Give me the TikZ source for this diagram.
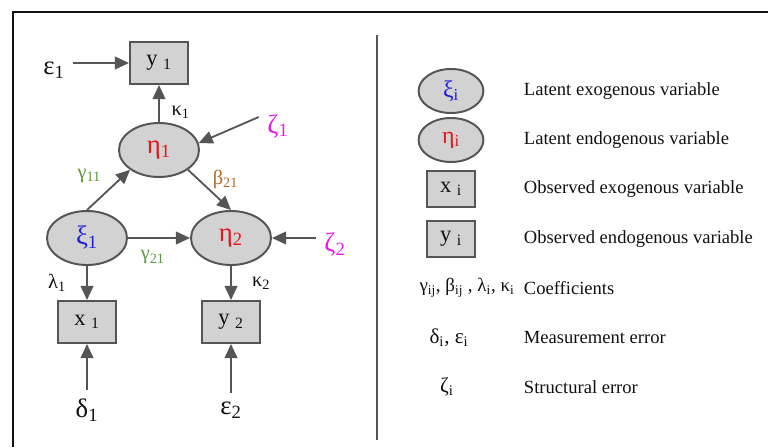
\documentclass[tikz,border=0pt]{standalone}
\usepackage{fontspec}
\setmainfont{Liberation Serif}
\usetikzlibrary{arrows.meta,positioning,calc,shapes.geometric}
\definecolor{ink}{HTML}{111111}
\definecolor{edge}{HTML}{555555}
\definecolor{shade}{HTML}{D2D2D2}
\definecolor{exo}{HTML}{1E1ED8}
\definecolor{endo}{HTML}{E8141C}
\definecolor{struct}{HTML}{E61CE6}
\definecolor{gam}{HTML}{5E9640}
\definecolor{bet}{HTML}{B0692A}
\tikzset{
  every node/.style={text=ink},
  latent/.style={ellipse, draw=edge, fill=shade, line width=1.4pt, minimum width=2.0cm, minimum height=1.35cm, inner sep=0pt, font=\fontsize{19}{22}\selectfont},
  observed/.style={rectangle, draw=edge, fill=shade, line width=1.4pt, minimum width=1.45cm, minimum height=1.05cm, font=\fontsize{16}{18}\selectfont},
  keylatent/.style={latent, minimum width=1.62cm, minimum height=1.1cm, font=\fontsize{17}{20}\selectfont},
  keyobs/.style={observed, minimum width=1.22cm, minimum height=0.88cm},
  err/.style={font=\fontsize{19}{22}\selectfont, inner sep=6pt},
  coef/.style={font=\fontsize{14.5}{17}\selectfont},
  keysym/.style={font=\fontsize{15}{18}\selectfont},
  keytext/.style={font=\fontsize{13.2}{16}\selectfont, anchor=west},
  arr/.style={-{Triangle[length=10pt,width=9pt]}, draw=edge, line width=1.3pt},
  frame/.style={draw=ink, line width=1.1pt},
}
\begin{document}
\begin{tikzpicture}[x=0.025cm, y=-0.025cm]
  \useasboundingbox (0,0) rectangle (768,447);
  \draw[frame] (13,447) -- (13,12) -- (768,12);
  \draw[frame, draw=edge] (377,35) -- (377,440);

  % path diagram
  \node[observed] (y1) at (159,63) {y\ \textsubscript{1}};
  \node[latent] (eta1) at (159,150) {\color{endo}η\textsubscript{1}};
  \node[latent] (xi1) at (87,238) {\color{exo}ξ\textsubscript{1}};
  \node[latent] (eta2) at (231,238) {\color{endo}η\textsubscript{2}};
  \node[observed] (x1) at (87,322) {x\ \textsubscript{1}};
  \node[observed] (y2) at (231,322) {y\ \textsubscript{2}};

  \node[err] (eps1) at (54,70) {ε\textsubscript{1}};
  \node[err, text=struct] (zeta1) at (278,126) {ζ\textsubscript{1}};
  \node[err, text=struct] (zeta2) at (335,244) {ζ\textsubscript{2}};
  \node[err] (delta1) at (87,410) {δ\textsubscript{1}};
  \node[err] (eps2) at (231,410) {ε\textsubscript{2}};

  \draw[arr] (eps1.east |- y1) -- (y1);
  \draw[arr] (eta1) -- node[pos=0.25, right=5pt, coef] (k1) {κ\textsubscript{1}} (y1);
  \draw[arr] (zeta1.155) -- (eta1.10);
  \draw[arr] (xi1.north) -- node[pos=0.85, left=12pt, coef, text=gam] (g11) {γ\textsubscript{11}} (eta1.south west);
  \draw[arr] (eta1.south east) -- node[pos=0.25, right=6pt, coef, text=bet] (b21) {β\textsubscript{21}} (eta2.north);
  \draw[arr] (xi1) -- node[pos=0.4, below=5pt, coef, text=gam] (g21) {γ\textsubscript{21}} (eta2);
  \draw[arr] (zeta2.west |- eta2) -- (eta2);
  \draw[arr] (xi1) -- node[left=11pt, coef] (l1) {λ\textsubscript{1}} (x1);
  \draw[arr] (eta2) -- node[right=11pt, coef] (k2) {κ\textsubscript{2}} (y2);
  \draw[arr] (delta1) -- (x1);
  \draw[arr] (eps2) -- (y2);

  % legend
  \node[keylatent] (kxi) at (451,91) {\color{exo}ξ\textsubscript{i}};
  \node[keylatent] (keta) at (451,140) {\color{endo}η\textsubscript{i}};
  \node[keyobs] (kx) at (451,189) {x\ \textsubscript{i}};
  \node[keyobs] (ky) at (451,239) {y\ \textsubscript{i}};
  \node[keysym, font=\fontsize{13.5}{16}\selectfont] (kcoef) at (467,288) {γ\textsubscript{ij}, β\textsubscript{ij} , λ\textsubscript{i}, κ\textsubscript{i}};
  \node[keysym] (kerr) at (449,338) {δ\textsubscript{i}, ε\textsubscript{i}};
  \node[keysym] (kstr) at (447,387) {ζ\textsubscript{i}};

  \node[keytext] (txi) at (519,91) {Latent exogenous variable};
  \node[keytext] (teta) at (519,140) {Latent endogenous variable};
  \node[keytext] (tx) at (519,189) {Observed exogenous variable};
  \node[keytext] (ty) at (519,239) {Observed endogenous variable};
  \node[keytext] (tcoef) at (519,288) {Coefficients};
  \node[keytext] (terr) at (519,338) {Measurement error};
  \node[keytext] (tstr) at (519,387) {Structural error};
\end{tikzpicture}
\end{document}
